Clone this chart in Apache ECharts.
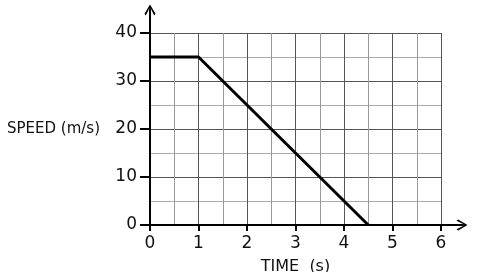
<!DOCTYPE html>
<html><head><meta charset="utf-8">
<script src="https://cdn.jsdelivr.net/npm/echarts@6/dist/echarts.min.js"></script>
<style>html,body{margin:0;padding:0;background:#fff}#c{width:488px;height:272px}</style>
</head><body><div id="c"></div>
<script>
const timeVals = [0, 1, 4.5];
const speedVals = [35, 35, 0];
const xTicks = [0, 1, 2, 3, 4, 5, 6];
const yTicks = [0, 10, 20, 30, 40];
const xName = 'TIME  (s)';
const yName = 'SPEED (m/s)';

const font = 'DejaVu Sans';
const chev = 'path://M5,0 L10,8.5 L8.8,10 L5.6,3.5 L5.6,10 L4.4,10 L4.4,3.5 L1.2,10 L0,8.5 Z';
const chart = echarts.init(document.getElementById('c'), null, {renderer: 'canvas'});
chart.setOption({
  animation: false,
  backgroundColor: '#fff',
  grid: [
    {left: 150, right: 47, top: 33, bottom: 47, outerBoundsMode: 'none', containLabel: false},
    {left: 150, right: 26, top: 10, bottom: 47, outerBoundsMode: 'none', containLabel: false}
  ],
  xAxis: [{
    gridIndex: 0, type: 'value', min: xTicks[0], max: xTicks[xTicks.length - 1], interval: 1,
    name: xName, nameLocation: 'middle', nameGap: 34, nameMoveOverlap: false,
    nameTextStyle: {fontFamily: font, fontSize: 16, color: '#111'},
    axisLine: {show: false},
    axisTick: {show: true, length: 6, inside: false, lineStyle: {color: '#000', width: 2}},
    axisLabel: {fontFamily: font, fontSize: 17, color: '#111', margin: 10},
    splitLine: {show: true, lineStyle: {color: '#555', width: 1}},
    minorTick: {show: false, splitNumber: 2},
    minorSplitLine: {show: true, lineStyle: {color: '#999', width: 1}}
  }, {
    gridIndex: 1, type: 'value', min: 0, max: 1,
    axisLine: {show: true, symbol: ['none', chev], symbolSize: [12, 11], lineStyle: {color: '#000', width: 2}},
    axisTick: {show: false}, axisLabel: {show: false}, splitLine: {show: false}
  }],
  yAxis: [{
    gridIndex: 0, type: 'value', min: yTicks[0], max: yTicks[yTicks.length - 1], interval: 10,
    name: yName, nameLocation: 'middle', nameRotate: 0, nameGap: 50, nameMoveOverlap: false,
    nameTextStyle: {fontFamily: font, fontSize: 15, color: '#111', align: 'right', verticalAlign: 'middle'},
    axisLine: {show: false},
    axisTick: {show: true, length: 10, lineStyle: {color: '#000', width: 2}},
    axisLabel: {fontFamily: font, fontSize: 17, color: '#111', margin: 13},
    splitLine: {show: true, lineStyle: {color: '#555', width: 1}},
    minorTick: {show: false, splitNumber: 2},
    minorSplitLine: {show: true, lineStyle: {color: '#aaa', width: 1}}
  }, {
    gridIndex: 1, type: 'value', min: 0, max: 1,
    axisLine: {show: true, symbol: ['none', chev], symbolSize: [12, 11], lineStyle: {color: '#000', width: 2}},
    axisTick: {show: false}, axisLabel: {show: false}, splitLine: {show: false}
  }],
  series: [{
    type: 'line', xAxisIndex: 0, yAxisIndex: 0,
    data: timeVals.map((t, i) => [t, speedVals[i]]),
    showSymbol: false, symbol: 'none',
    lineStyle: {color: '#000', width: 3}, z: 5
  }]
});
</script></body></html>
